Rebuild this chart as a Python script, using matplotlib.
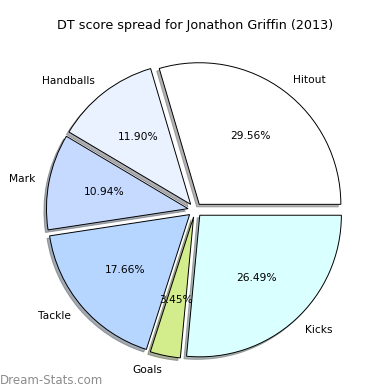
import matplotlib
matplotlib.use("Agg")
import matplotlib.pyplot as plt

labels = ["Hitout", "Handballs", "Mark", "Tackle", "Goals", "Kicks"]
shares = [29.56, 11.90, 10.94, 17.66, 3.45, 26.49]
colors = ["#ffffff", "#eaf1ff", "#c6d9ff", "#b6d6ff", "#d3ec8c", "#daffff"]
title = "DT score spread for Jonathon Griffin (2013)"

fig = plt.figure(figsize=(3.9, 3.9), dpi=100)
size = 354
ax = fig.add_axes([(195 - size / 2) / 390, (180 - size / 2) / 390, size / 390, size / 390])

wedges, texts, autotexts = ax.pie(
    shares, labels=labels, colors=colors, explode=[0.05] * len(shares),
    autopct="%1.2f%%", shadow={"ox": -0.013, "oy": -0.013, "shade": 0.6},
    startangle=0,
    wedgeprops={"edgecolor": "black", "linewidth": 0.7},
    textprops={"fontsize": 7.7})
ax.set_xlim(-1.25, 1.25)
ax.set_ylim(-1.25, 1.25)
ax.set_aspect("equal")

fig.text(195 / 390, 1 - 25 / 390, title, ha="center", va="center", fontsize=9.2)
fig.text(0.0, 10 / 390, "Dream-Stats.com", ha="left", va="center",
         fontsize=8.5, color="#8c8c8c")

fig.savefig("out.png", dpi=100)
